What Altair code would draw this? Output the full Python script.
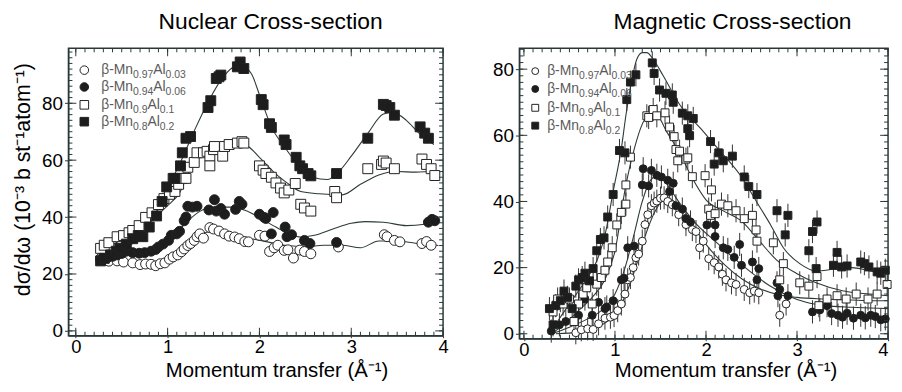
import altair as alt
import pandas as pd
import numpy as np

FONT = "Liberation Sans"
INK = "#1d1d1d"
FRAME = "#2a3838"

SERIES = ["a003", "a006", "a01", "a02"]
SHAPES = ["circle", "circle", "square", "square"]
FILLS = ["white", INK, "white", INK]
LEGEND_PARTS = [("β-Mn", "0.97", "Al", "0.03"),
                ("β-Mn", "0.94", "Al", "0.06"),
                ("β-Mn", "0.9", "Al", "0.1"),
                ("β-Mn", "0.8", "Al", "0.2")]

# ---------------- Nuclear cross-section (left) ----------------
nuc_003_q = [0.27,0.31,0.36,0.45,0.52,0.62,0.70,0.76,0.82,0.87,0.92,0.97,1.02,1.06,1.11,1.15,1.18,1.22,1.25,1.29,
             1.32,1.35,1.39,1.46,1.50,1.56,1.62,1.67,1.73,1.78,1.84,1.88,2.00,2.06,2.11,2.16,2.20,2.27,2.31,2.37,
             2.44,2.49,2.56,2.86,3.36,3.39,3.47,3.53,3.77,3.82,3.87]
nuc_003_y = [25.5,25,24.5,24.6,24.2,23.9,23.3,23.5,23.4,22.9,23.6,23.9,25.2,26,26.7,27.8,28.8,30,30.7,31.8,
             33.1,34.1,32.6,36.3,35.8,35.1,34.1,33.3,33,32.4,31.4,31.3,33.6,33.3,27.9,29.2,30.1,28.3,28.5,25.6,
             28.4,27.9,27.1,29.5,33.8,33.1,31.8,31.3,30.7,31.4,30.1]

nuc_006_q = [0.27,0.31,0.34,0.40,0.45,0.50,0.55,0.62,0.69,0.75,0.82,0.87,0.90,0.95,1.01,1.04,1.10,1.13,1.18,1.20,
             1.22,1.27,1.32,1.45,1.51,1.53,1.58,1.62,1.74,1.78,1.81,2.00,2.05,2.07,2.13,2.15,2.28,2.30,2.35,2.49,
             2.55,2.84,3.84,3.88,3.91]
nuc_006_y = [25,25.8,25.6,26.2,26.7,27.2,28,27.5,27.3,27.5,28,28.6,29.5,30.5,31.8,33.6,34.1,35,38.7,40,
             43.8,43.5,43.8,42.5,46.1,42.1,43,41,42.7,45.5,44.5,41,39.9,39.5,34.1,41.6,36.5,33.1,33.8,31.8,
             30.7,31.1,38.2,39.2,38.7]

nuc_01_q = [0.27,0.31,0.36,0.45,0.52,0.58,0.62,0.69,0.76,0.83,0.90,0.96,1.02,1.08,1.12,1.16,1.20,1.22,1.29,1.32,
            1.39,1.43,1.46,1.46,1.50,1.51,1.60,1.62,1.67,1.76,1.81,1.83,2.00,2.04,2.07,2.13,2.18,2.23,2.27,2.32,
            2.39,2.45,2.49,2.56,2.82,2.84,3.18,3.33,3.35,3.38,3.47,3.77,3.82,3.87,3.91]
nuc_01_y = [29,30.1,31,33.1,33.5,34.5,35.3,37,39.9,41.5,44.4,46.5,48,49,51.5,53.6,53.6,57.5,59.2,62.6,
            62.6,63.1,61.4,58,63.7,64.8,61.4,64.8,65.5,66,66.5,66,58,56.5,55.3,54,52,50.2,48.5,49.5,
            51.8,44.5,43.2,42.1,49,46.8,57,58.5,59.7,59,57,60.4,58.5,57,54.6]

nuc_02_q = [0.27,0.31,0.38,0.44,0.48,0.55,0.62,0.68,0.73,0.80,0.88,0.94,0.99,1.06,1.08,1.14,1.16,1.20,1.25,1.44,
            1.47,1.53,1.56,1.58,1.76,1.79,1.83,2.02,2.04,2.11,2.13,2.27,2.29,2.40,2.44,2.47,2.53,2.56,2.84,3.18,
            3.35,3.38,3.42,3.47,3.75,3.80,3.84]
nuc_02_y = [24.6,25.5,26.7,28,29,30.5,32.4,33.5,33.1,36.5,40.4,45.5,50.6,53.6,53.6,58,62.6,67.7,68.3,78.5,
            80.9,88.7,89.3,89.9,92.8,94.5,92.2,81.3,79.5,72.8,71.5,67.1,65.5,61,58,57,55.3,54.5,55.3,67.7,
            79.6,79.2,78.5,75.8,71.7,69.5,67.7]

nuc_fit_003_q = [0.25,0.5,0.75,0.9,1.05,1.2,1.35,1.5,1.7,1.9,2.1,2.3,2.5,2.7,2.9,3.1,3.3,3.5,3.7,3.95]
nuc_fit_003_y = [24.8,24.2,23.5,23.8,25.8,29.5,33.5,35.2,34,32.5,31.2,30,29.6,30.1,30.1,29.2,31.6,31.6,30.8,30]
nuc_fit_006_q = [0.25,0.5,0.75,0.9,1.05,1.2,1.35,1.5,1.7,1.85,2.0,2.15,2.3,2.45,2.6,2.8,3.0,3.15,3.35,3.6,3.8,3.95]
nuc_fit_006_y = [25,26.5,27.8,29.5,33,38,42,43.5,43.5,42.3,39.8,37,34.5,33,33.6,35.8,37.8,38.4,38.2,37,37.5,38.8]
nuc_fit_01_q = [0.25,0.5,0.75,0.9,1.0,1.13,1.25,1.4,1.6,1.75,1.85,2.0,2.15,2.3,2.45,2.65,2.9,3.1,3.3,3.5,3.7,3.95]
nuc_fit_01_y = [28,32,37,41,44,48.5,57,62.5,64.8,65.5,65.2,61,56,52,49,48.2,47.8,51.5,54.8,56,55.8,56.3]
nuc_fit_02_q = [0.25,0.5,0.75,0.9,1.0,1.15,1.3,1.45,1.6,1.75,1.85,1.92,2.0,2.13,2.27,2.4,2.58,2.74,2.86,3.0,3.18,
                3.35,3.45,3.6,3.74,3.9]
nuc_fit_02_y = [24.5,28,35,43,50,60,71,81,89,93,92.5,89.9,83,71.7,64.8,59.2,54,53.2,55.8,61.4,69.4,
                76.2,76.8,74,69.4,65.5]

# ---------------- Magnetic cross-section (right) ----------------
mag_003_q = [0.57,0.63,0.70,0.76,0.82,0.89,0.95,0.99,1.03,1.07,1.11,1.14,1.17,1.20,1.23,1.26,1.30,1.33,1.36,1.40,
             1.43,1.46,1.50,1.54,1.58,1.63,1.70,1.78,1.85,1.89,1.93,1.97,2.03,2.09,2.14,2.18,2.22,2.28,2.33,2.42,
             2.48,2.53,2.58,2.81,2.88]
mag_003_y = [0.3,1.2,1.5,1.3,3,4.7,5,5.5,7,9,12,16.3,17,20,23,24.1,28,33,36,38.7,
             39.5,40.1,41,41.1,40,39,36,33,31.5,30.9,26,28,22.7,21.5,20.2,18,16.3,15.4,14.9,13.4,
             12.4,12.9,12.4,5.6,9]

mag_006_q = [0.30,0.39,0.46,0.60,0.67,0.75,0.82,0.89,0.91,0.98,1.07,1.10,1.14,1.21,1.30,1.31,1.37,1.40,1.46,1.51,
             1.58,1.60,1.64,1.67,1.74,1.78,1.83,2.01,2.10,2.10,2.19,2.24,2.31,2.37,2.39,2.51,2.56,2.58,2.78,2.79,
             2.81,2.90,3.17,3.25,3.33,3.38,3.45,3.50,3.55,3.62,3.70,3.75,3.81,3.86,3.92,3.97]
mag_006_y = [0.8,2.7,3.7,5.6,10.5,5.6,9.5,7.6,8.1,10,16.3,16.8,26,26.5,45,49.9,44.7,49.4,47.9,47.4,
             46.4,43,45.5,38.7,37.7,34.8,33.8,32.9,32.9,29.4,26,25.5,23.1,27,20.7,21.7,16.3,19.7,15.4,11.5,
             13.4,11.5,6.6,7.2,8.5,6.1,5.6,5.0,6.2,4.7,5.6,4.8,5.6,5.2,4.2,4.5]

mag_01_q = [0.32,0.37,0.43,0.50,0.55,0.60,0.65,0.69,0.75,0.80,0.85,0.89,0.92,0.97,1.02,1.07,1.12,1.12,1.17,1.35,
            1.37,1.42,1.46,1.55,1.60,1.65,1.67,1.69,1.71,1.78,1.80,1.85,1.99,2.03,2.05,2.06,2.10,2.17,2.24,2.33,
            2.42,2.51,2.55,2.56,2.74,2.81,2.85,3.03,3.13,3.22,3.24,3.33,3.44,3.54,3.65,3.78,3.88,3.99]
mag_01_y = [6.6,10.5,9,10.5,3.7,9,12,13.9,9,15,17,19.2,21.7,26,32.9,36.7,39.2,45,53.4,65.9,
            65.4,67.8,65.9,66.8,62.5,59.6,55.7,52.3,55.2,52.8,53.2,47.5,47.8,37.7,35.8,43.5,36.3,39.2,38.7,37.2,
            34.8,35.8,31.4,28,27.5,16.3,21.2,15.4,14.4,17.3,8.5,10.5,11.5,10.5,12,10.5,12,14.9]

mag_02_q = [0.28,0.32,0.35,0.40,0.44,0.48,0.53,0.57,0.60,0.64,0.67,0.72,0.76,0.80,0.84,0.88,0.92,0.98,1.05,1.11,
            1.13,1.17,1.23,1.41,1.43,1.49,1.56,1.63,1.64,1.74,1.80,1.80,1.82,1.86,2.05,2.09,2.14,2.19,2.29,2.42,
            2.47,2.56,2.78,2.87,2.90,3.13,3.17,3.21,3.22,3.40,3.44,3.49,3.55,3.70,3.74,3.79,3.88,3.92,3.97]
mag_02_y = [7.6,2.7,8.5,10,12.9,11,7.6,14.4,16.3,17,18.3,16,19.7,25.1,28.5,29,35.3,42.1,55.4,54.7,
            70.8,76.1,78.3,81.9,78.7,73.7,72.7,72.2,70,66.7,65.9,62,59.9,65.1,58.1,51.3,54.7,52.3,53.7,47.4,
            44.5,42.1,37.2,29.9,35.8,25.1,30.9,19.7,33.8,20.7,24.6,20.2,20.5,21.7,21.2,20.2,18.7,18.3,19.2]
mag_err = 3.5

mag_fit_003_q = [0.35,0.6,0.8,0.95,1.05,1.15,1.25,1.35,1.45,1.55,1.62,1.7,1.85,2.0,2.2,2.4,2.6,2.8,3.0,3.3,3.6,3.8,4.0]
mag_fit_003_y = [0,0.5,2,4.5,8,14,22,31,37.5,40.5,40.5,38,33,27,21,16.5,13.5,11.8,11,10.5,10.2,10,10]
mag_fit_006_q = [0.3,0.5,0.7,0.85,1.0,1.1,1.2,1.3,1.38,1.45,1.52,1.6,1.75,1.9,2.1,2.3,2.5,2.7,2.9,3.1,3.3,3.6,3.8,4.0]
mag_fit_006_y = [0,2,4.5,7,12,19,29,40,46,47.5,47,44,38,33,28,23,18.5,14.5,11.5,9.5,8.5,8,7.8,7.6]
mag_fit_01_q = [0.3,0.45,0.6,0.75,0.9,1.0,1.12,1.21,1.32,1.40,1.48,1.56,1.71,1.85,2.0,2.2,2.4,2.56,2.78,2.99,3.21,
                3.5,3.8,4.0]
mag_fit_01_y = [0,3,7,11,17,25,45,55.7,64.4,66,65.4,61.5,54.7,47,40.5,37,33.8,28.9,22.2,18.3,15.4,13,12,11.5]
mag_fit_02_q = [0.28,0.4,0.5,0.6,0.7,0.8,0.9,0.98,1.07,1.12,1.18,1.24,1.30,1.35,1.42,1.53,1.71,1.96,2.14,2.39,2.56,
                2.71,2.85,3.03,3.21,3.4,3.6,3.8,4.0]
mag_fit_02_y = [0,5,9,13,17,22,31,43,56,66,76,83,85,85,83,78,69.3,61.5,55.7,47.4,39.7,32.9,26,21.2,19,19.5,20,19,18]

X_TICKS = [0, 1, 2, 3, 4]
Y_TICKS = [0, 20, 40, 60, 80]


def frame(qs, ys):
    parts = [pd.DataFrame({"q": q, "y": y, "series": s}) for q, y, s in zip(qs, ys, SERIES)]
    return pd.concat(parts, ignore_index=True)


CHAR_W = {"β": 0.574, "-": 0.333, "M": 0.833, "n": 0.556, "A": 0.667, "l": 0.222, ".": 0.278}


def text_w(s, fs):
    return sum(CHAR_W.get(c, 0.556) for c in s) * fs


def make_panel(pts, fits, xdom, ydom, w, h, title, title_dx, ytitle, ytitle_y, xtitle_x,
               x_tick, x_pad, x_extent, yerr, msize, leg_y, leg_mx, leg_tx, y_extent, flush):
    xs = alt.Scale(domain=xdom, nice=False, zero=False)
    ys = alt.Scale(domain=ydom, nice=False, zero=False)

    def x_axis():
        return alt.Axis(values=X_TICKS, format="d", title="Momentum transfer (Å⁻¹)", titleX=xtitle_x,
                        tickSize=x_tick, labelPadding=x_pad, titlePadding=0, labelFlush=flush,
                        minExtent=x_extent, maxExtent=x_extent)

    def y_axis():
        kw = dict(values=Y_TICKS, format="d", tickSize=4, labelPadding=2,
                  minExtent=y_extent, maxExtent=y_extent)
        if ytitle:
            return alt.Axis(title=ytitle, titleY=ytitle_y, titlePadding=8.5, **kw)
        return alt.Axis(title=None, **kw)

    def X(field):
        return alt.X(field, scale=xs, axis=x_axis())

    def Y(field):
        return alt.Y(field, scale=ys, axis=y_axis())

    layers = []
    if yerr:
        err = pts.assign(lo=pts["y"] - yerr, hi=pts["y"] + yerr)
        layers.append(alt.Chart(err).mark_rule(color="#333333", strokeWidth=1).encode(
            x=X("q:Q"), y=Y("lo:Q"), y2="hi:Q"))

    layers.append(alt.Chart(fits).mark_line(interpolate="monotone", color="#2c3a3a", strokeWidth=1.1).encode(
        x=X("q:Q"), y=Y("y:Q"), detail="series:N"))

    layers.append(alt.Chart(pts).mark_point(filled=True, size=msize, stroke="#222222", strokeWidth=1,
                                            opacity=1).encode(
        x=X("q:Q"), y=Y("y:Q"),
        shape=alt.Shape("series:N", scale=alt.Scale(domain=SERIES, range=SHAPES), legend=None),
        fill=alt.Fill("series:N", scale=alt.Scale(domain=SERIES, range=FILLS), legend=None)))

    # minor / major tick marks on all four sides, pointing inward
    xt_minor = pd.DataFrame({"t": [round(v, 1) for v in np.arange(0, 4.001, 0.1)]})
    xt_major = pd.DataFrame({"t": X_TICKS})
    yt_minor = pd.DataFrame({"t": list(range(0, int(ydom[1]) + 1, 2))})
    yt_major = pd.DataFrame({"t": Y_TICKS})
    for df, ln in ((xt_minor, 4), (xt_major, 8)):
        layers.append(alt.Chart(df).mark_rule(color=FRAME, strokeWidth=1).encode(
            x=X("t:Q"), y=alt.value(h), y2=alt.value(h - ln)))
        layers.append(alt.Chart(df).mark_rule(color=FRAME, strokeWidth=1).encode(
            x=X("t:Q"), y=alt.value(0), y2=alt.value(ln)))
    for df, ln in ((yt_minor, 4), (yt_major, 8)):
        layers.append(alt.Chart(df).mark_rule(color=FRAME, strokeWidth=1).encode(
            y=Y("t:Q"), x=alt.value(0), x2=alt.value(ln)))
        layers.append(alt.Chart(df).mark_rule(color=FRAME, strokeWidth=1).encode(
            y=Y("t:Q"), x=alt.value(w - ln), x2=alt.value(w)))

    # hand-built legend with subscripts
    one = pd.DataFrame({"a": [0]})
    for i, (p1, s1, p2, s2) in enumerate(LEGEND_PARTS):
        ry = leg_y[i]
        layers.append(alt.Chart(one).mark_point(
            shape=SHAPES[i], filled=True, fill=FILLS[i], stroke="#222222", strokeWidth=1,
            size=msize * 0.75, opacity=1).encode(x=alt.value(leg_mx), y=alt.value(ry)))
        cx = leg_tx
        for txt, fs, dy in ((p1, 14, 0), (s1, 10.5, 5), (p2, 14, 0), (s2, 10.5, 5)):
            layers.append(alt.Chart(one).mark_text(
                text=txt, font=FONT, fontSize=fs, color="#5a5a5a", align="left", baseline="middle").encode(
                x=alt.value(cx), y=alt.value(ry + dy)))
            cx += text_w(txt, fs)

    return alt.layer(*layers).properties(
        width=w, height=h,
        title=alt.TitleParams(title, dx=title_dx, frame="group", anchor="middle", offset=14))


nuc_pts = frame([nuc_003_q, nuc_006_q, nuc_01_q, nuc_02_q], [nuc_003_y, nuc_006_y, nuc_01_y, nuc_02_y])
nuc_fit = frame([nuc_fit_003_q, nuc_fit_006_q, nuc_fit_01_q, nuc_fit_02_q],
                [nuc_fit_003_y, nuc_fit_006_y, nuc_fit_01_y, nuc_fit_02_y])
mag_pts = frame([mag_003_q, mag_006_q, mag_01_q, mag_02_q], [mag_003_y, mag_006_y, mag_01_y, mag_02_y])
mag_fit = frame([mag_fit_003_q, mag_fit_006_q, mag_fit_01_q, mag_fit_02_q],
                [mag_fit_003_y, mag_fit_006_y, mag_fit_01_y, mag_fit_02_y])

left = make_panel(nuc_pts, nuc_fit, [-0.08, 4.0], [-1.7, 99.3], 378, 290,
                  "Nuclear Cross-section", 15, "dσ/dω (10⁻³ b st⁻¹atom⁻¹)", 132, 210,
                  2, 0, 25, 0, 100, [22, 39, 57, 74], 16, 33, 26, False)
right = make_panel(mag_pts, mag_fit, [-0.05, 4.0], [-1.5, 86.3], 372, 293,
                   "Magnetic Cross-section", 29, None, 0, 208,
                   2, 0, 22, mag_err, 64, [23, 41, 60, 78], 16, 28, 28, True)

chart = alt.hconcat(left, right, spacing=42).properties(
    padding={"left": 3, "top": 0, "right": 0, "bottom": 0}
).configure_view(stroke=FRAME, strokeWidth=1.5).configure_axis(
    labelFont=FONT, titleFont=FONT, labelFontSize=19, titleFontSize=21.5,
    labelColor="black", titleColor="black", titleFontWeight="normal",
    domainColor=FRAME, tickColor=FRAME, grid=False
).configure_axisX(titleFontSize=20.5, labelFontSize=18.5).configure_title(
    font=FONT, fontSize=23, fontWeight="normal", color="black")

chart.save("out.html", embed_options={"renderer": "svg", "actions": False})
